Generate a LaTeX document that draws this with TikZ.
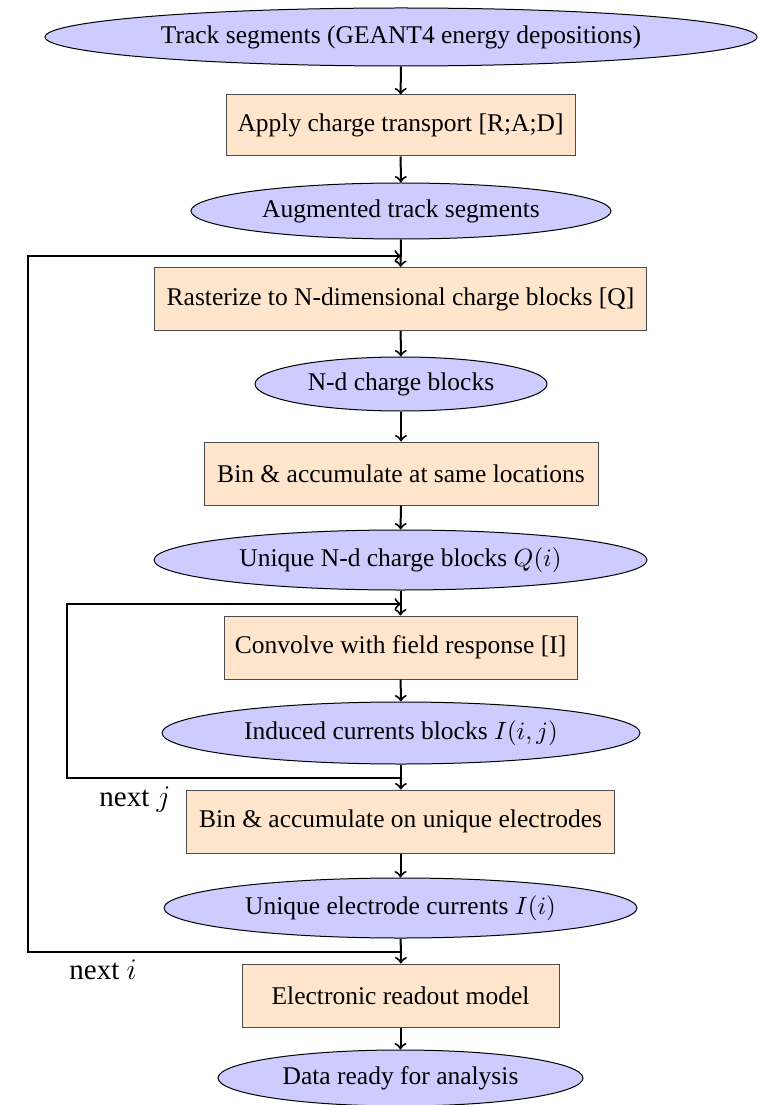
\documentclass[tikz,border=0pt]{standalone}
\usepackage{fontspec}
\setmainfont{Liberation Serif}
\usetikzlibrary{shapes.geometric}
\begin{document}
\begin{tikzpicture}[x=0.4pt,y=-0.4pt,
  every node/.style={font=\fontsize{10.2}{12}\selectfont, inner sep=0pt},
  data/.style={ellipse, draw=black, fill=blue!20, line width=0.4pt},
  proc/.style={rectangle, draw=black!70, fill=orange!20, line width=0.4pt},
  looplabel/.style={font=\fontsize{11.6}{14}\selectfont},
  flow/.style={->, thick}]
\useasboundingbox (0,0) rectangle (762,1105);
\node[data, minimum width=284.8pt, minimum height=23.2pt] (n1) at (401,37) {Track segments (GEANT4 energy depositions)};
\node[proc, minimum width=139.6pt, minimum height=24.4pt] (n2) at (400.5,125.5) {Apply charge transport [R;A;D]};
\node[data, minimum width=168pt, minimum height=22.4pt] (n3) at (401,211) {Augmented track segments};
\node[proc, minimum width=196.4pt, minimum height=25.2pt] (n4) at (400.5,299) {Rasterize to N-dimensional charge blocks [Q]};
\node[data, minimum width=116.8pt, minimum height=21.6pt] (n5) at (401,384) {N-d charge blocks};
\node[proc, minimum width=157.6pt, minimum height=25.2pt] (n6) at (401,473.5) {Bin \& accumulate at same locations};
\node[data, minimum width=197.2pt, minimum height=24pt] (n7) at (400.5,560) {Unique N-d charge blocks $Q(i)$};
\node[proc, minimum width=141.2pt, minimum height=25.2pt] (n8) at (400.5,647.5) {Convolve with field response [I]};
\node[data, minimum width=191.2pt, minimum height=24.8pt] (n9) at (401,733) {Induced currents blocks $I(i,j)$};
\node[proc, minimum width=170.8pt, minimum height=25.2pt] (n10) at (400.5,821.5) {Bin \& accumulate on unique electrodes};
\node[data, minimum width=189.2pt, minimum height=24pt] (n11) at (400.5,908) {Unique electrode currents $I(i)$};
\node[proc, minimum width=126.8pt, minimum height=25.2pt] (n12) at (400.5,995.5) {Electronic readout model};
\node[data, minimum width=146pt, minimum height=22.4pt] (n13) at (400.5,1078) {Data ready for analysis};
\coordinate (ti) at (401,256);
\coordinate (tj) at (401,604);
\coordinate (bj) at (401,778);
\coordinate (bi) at (401,952);
\draw[flow] (n1) -- (n2);
\draw[flow] (n2) -- (n3);
\draw[flow] (n3) -- (n4);
\draw[flow] (n4) -- (n5);
\draw[flow] (n5) -- (n6);
\draw[flow] (n6) -- (n7);
\draw[flow] (n7) -- (n8);
\draw[flow] (n8) -- (n9);
\draw[thick] (n9.south) -- (bj);
\draw[flow] (bj) -- (n10);
\draw[flow] (n10) -- (n11);
\draw[thick] (n11.south) -- (bi);
\draw[flow] (bi) -- (n12);
\draw[flow] (n12) -- (n13);
\draw[flow] (bj) -- (67,778) -- (67,604) -- (tj);
\draw[flow] (bi) -- (28,952) -- (28,256) -- (ti);
\node[looplabel] (lj) at (135,800) {next $j$};
\node[looplabel] (li) at (103,970) {next $i$};
\end{tikzpicture}
\end{document}
